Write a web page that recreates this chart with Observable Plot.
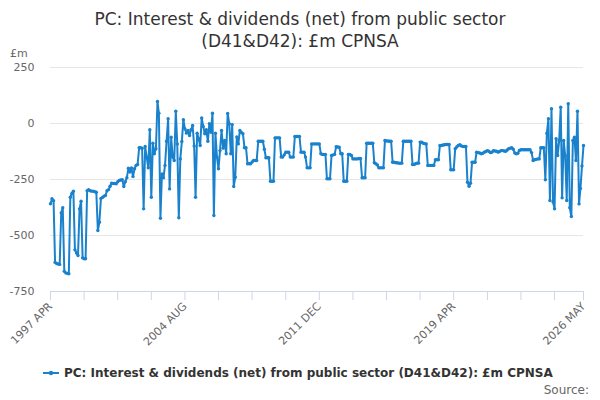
<!DOCTYPE html>
<html><head><meta charset="utf-8">
<script src="https://cdn.jsdelivr.net/npm/d3@7"></script>
<script src="https://cdn.jsdelivr.net/npm/@observablehq/plot@0.6"></script>
<style>
body{margin:0;font-family:"DejaVu Sans",sans-serif;background:#fff}
#wrap{position:relative;width:600px;height:400px;overflow:hidden}
#chart{position:absolute;left:0;top:0}
#title{position:absolute;top:8px;left:0;width:600px;text-align:center;font-size:17px;line-height:22px;color:#333}
#unit{position:absolute;left:10px;top:47px;font-size:11px;color:#666}
#legend{position:absolute;left:43px;top:366px;font-size:12px;font-weight:bold;color:#333;display:flex;align-items:center;white-space:nowrap}
#legend svg{margin-right:5px}
#source{position:absolute;right:11px;top:383px;font-size:12px;color:#666}
</style></head><body>
<div id="wrap">
<div id="chart"></div>
<div id="title">PC: Interest &amp; dividends (net) from public sector<br>(D41&amp;D42): £m CPNSA</div>
<div id="unit">£m</div>
<div id="legend"></div>
<div id="source">Source:</div>
</div>
<script>
const seriesName = "PC: Interest & dividends (net) from public sector (D41&D42): £m CPNSA";
const startYear = 1997, startMonth = 4; // April 1997

const v1997 = [-358,-336,-345,-620,-625,-627,-629,-399,-376];
const v1998 = [-660,-667,-669,-671,-329,-312,-302,-564,-578,-589,-381,-347];
const v1999 = [-600,-604,-604,-300,-296,-300,-302,-302,-305,-307,-478,-441];
const v2000 = [-335,-330,-325,-321,-300,-295,-280,-266,-268,-268,-269,-260];
const v2001 = [-254,-252,-251,-281,-260,-242,-200,-217,-198,-237,-202,-187];
const v2002 = [-183,-108,-108,-110,-381,-103,-150,-198,-28,-329,-88,-135];
const v2003 = [-113,98,46,-423,-225,-242,-187,-79,21,-292,-61,-150];
const v2004 = [-165,55,-91,-421,-158,-80,17,-24,-43,-31,-54,-28];
const v2005 = [-9,-100,-329,-43,-68,-98,25,-13,-46,-28,-79,-1];
const v2006 = [-39,46,-411,-43,-150,-202,-121,-31,-110,-76,-135,45];
const v2007 = [-1,-135,-5,-281,-240,-60,-91,-31,-40,-46,-108,-108];
const v2008 = [-180,-180,-180,-172,-165,-165,-165,-79,-79,-79,-79,-115];
const v2009 = [-153,-153,-153,-258,-258,-258,-64,-64,-64,-64,-150,-150];
const v2010 = [-140,-128,-128,-128,-150,-150,-150,-58,-58,-58,-58,-128];
const v2011 = [-128,-128,-150,-198,-198,-198,-91,-91,-91,-91,-91,-91];
const v2012 = [-135,-138,-138,-138,-247,-247,-247,-143,-140,-138,-104,-105];
const v2013 = [-106,-135,-135,-258,-258,-258,-138,-138,-143,-158,-158,-158];
const v2014 = [-158,-156,-156,-242,-242,-242,-88,-88,-88,-88,-88,-175];
const v2015 = [-180,-185,-198,-198,-198,-198,-76,-78,-78,-79,-79,-173];
const v2016 = [-173,-175,-175,-177,-177,-177,-79,-79,-79,-79,-79,-79];
const v2017 = [-183,-183,-180,-177,-177,-83,-83,-88,-90,-91,-187,-187];
const v2018 = [-187,-187,-187,-162,-162,-162,-98,-98,-96,-95,-94,-94];
const v2019 = [-94,-207,-207,-207,-113,-105,-98,-95,-100,-103,-103,-103];
const v2020 = [-262,-280,-267,-173,-173,-173,-128,-130,-132,-135,-133,-128];
const v2021 = [-125,-121,-124,-130,-128,-121,-123,-124,-128,-125,-121,-121];
const v2022 = [-123,-124,-118,-113,-110,-108,-115,-132,-135,-133,-120,-117];
const v2023 = [-117,-117,-117,-117,-117,-117,-130,-165,-162,-160,-158,-158];
const v2024 = [-108,-108,-108,-251,-43,21,-344,66,-351,-381,-68,-143];
const v2025 = [-76,73,-332,-76,-143,-344,88,-376,-415,-76,-61,-165];
const v2026 = [55,-359,-290,-190,-98];

const yTicks = [250, 0, -250, -500, -750];
const xTickStep = 22; // months between axis tick marks
const xTickLabels = ["1997 APR","2004 AUG","2011 DEC","2019 APR","2026 MAY"];
const color = "#1a82cc";

const values = [].concat(v1997,v1998,v1999,v2000,v2001,v2002,v2003,v2004,v2005,v2006,v2007,v2008,v2009,v2010,v2011,v2012,v2013,v2014,v2015,v2016,v2017,v2018,v2019,v2020,v2021,v2022,v2023,v2024,v2025,v2026);
const monthDate = i => new Date(Date.UTC(startYear, startMonth - 1 + i, 1));
const data = values.map((v, i) => ({date: monthDate(i), value: v}));
const last = values.length - 1;

const tickIdx = [];
for (let i = 0; i < last - 10; i += xTickStep) tickIdx.push(i);
tickIdx.push(last);
const tickDates = tickIdx.map(monthDate);
const labelFor = new Map();
[0, 88, 176, 264, last].forEach((idx, k) => labelFor.set(+monthDate(idx), xTickLabels[k]));

const chart = Plot.plot({
  width: 600, height: 400,
  marginTop: 67, marginBottom: 109, marginLeft: 50, marginRight: 17,
  style: {fontFamily: "DejaVu Sans", fontSize: "11px", background: "transparent"},
  x: {type: "utc", domain: [data[0].date, data[last].date]},
  y: {domain: [-750, 250]},
  marks: [
    Plot.ruleY(yTicks.filter(t => t !== -750), {stroke: "#e6e6e6", strokeWidth: 1}),
    Plot.ruleY([-750], {stroke: "#ccd6eb", strokeWidth: 1}),
    Plot.axisY({ticks: yTicks, tickSize: 0, tickPadding: 16, fill: "#666", label: null, tickFormat: d => String(d)}),
    Plot.axisX({ticks: tickDates, tickSize: 9, tickPadding: 4, stroke: "#ccd6eb", fill: "#666", tickRotate: -45, label: null,
      tickFormat: d => labelFor.get(+d) || ""}),
    Plot.lineY(data, {x: "date", y: "value", stroke: color, strokeWidth: 2}),
    Plot.dot(data, {x: "date", y: "value", r: 1.7, fill: color, stroke: "none"})
  ]
});
document.getElementById("chart").appendChild(chart);

const lg = document.getElementById("legend");
lg.innerHTML = `<svg width="16" height="10"><line x1="0" x2="16" y1="5" y2="5" stroke="${color}" stroke-width="2"/><circle cx="8" cy="5" r="2.2" fill="${color}"/></svg>`;
lg.appendChild(document.createTextNode(seriesName));
</script>
</body></html>
